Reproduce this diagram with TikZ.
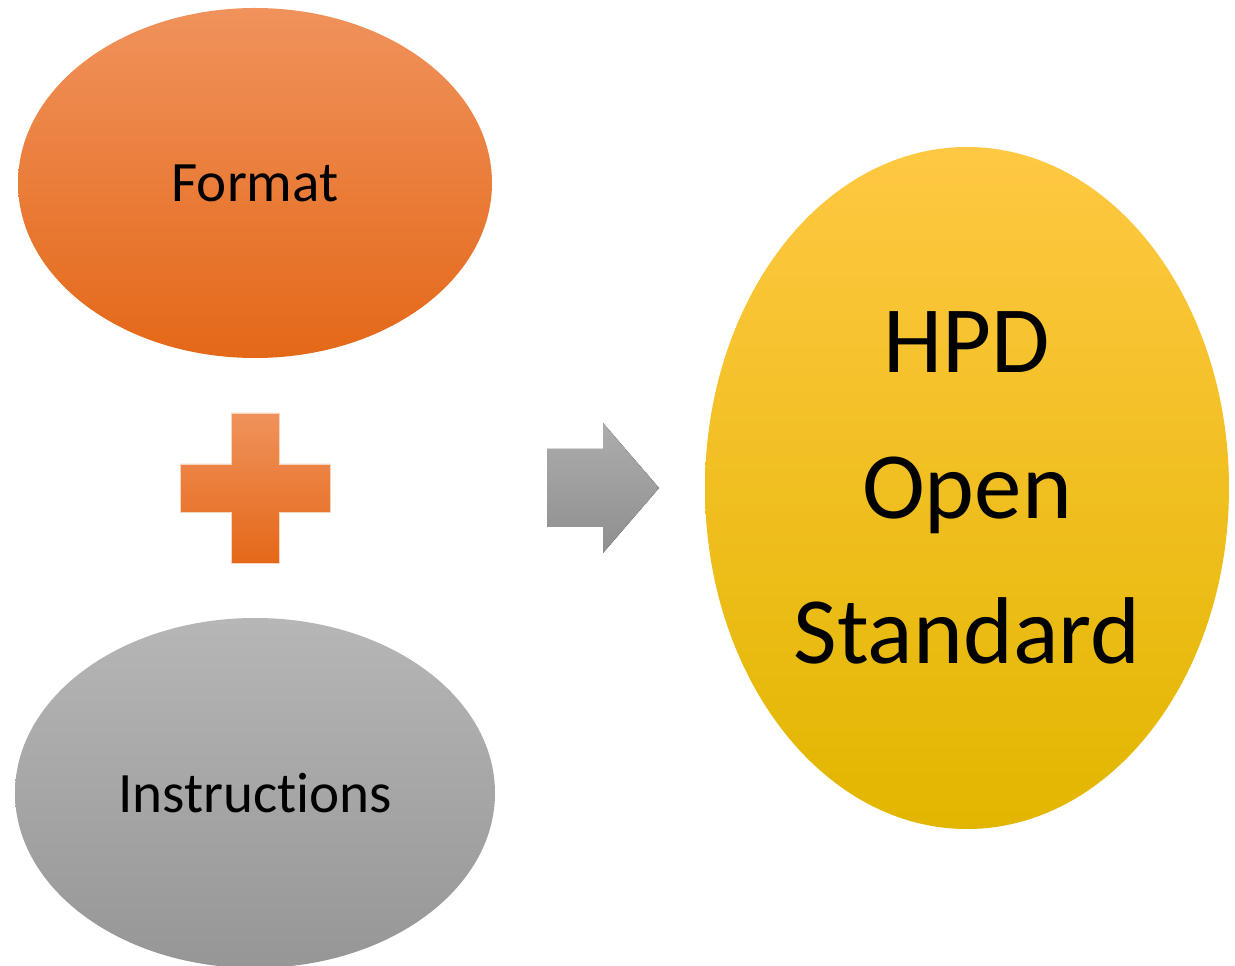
\documentclass[tikz,border=0pt]{standalone}
\usepackage{xcolor}
\usepackage{fontspec}
\setmainfont[Ligatures=NoCommon]{Carlito}
\usepackage{tikz}
\usetikzlibrary{shapes.geometric}

\definecolor{orangeTop}{RGB}{240,146,92}
\definecolor{orangeMid}{RGB}{246,128,42}
\definecolor{orangeBot}{RGB}{228,104,24}
\definecolor{greyTop}{RGB}{182,182,182}
\definecolor{greyBot}{RGB}{150,150,150}
\definecolor{yellowTop}{RGB}{255,200,66}
\definecolor{yellowMid}{RGB}{255,192,0}
\definecolor{yellowBot}{RGB}{226,182,0}

\begin{document}
\begin{tikzpicture}[
        blob/.style={ellipse, inner sep=0pt, font=\fontsize{32.5}{39}\selectfont},
        orangefill/.style={top color=orangeTop, middle color=orangeMid, bottom color=orangeBot},
        greyfill/.style={top color=greyTop, bottom color=greyBot}
    ]
    \useasboundingbox (0,0) rectangle (24.7,-19.32);

    % the two inputs
    \node[blob, orangefill, minimum width=9.48cm, minimum height=7cm] (F) at (5.1,-3.66) {Format};
    \node[blob, greyfill, minimum width=9.6cm, minimum height=7cm] (I) at (5.1,-15.86) {Instructions};

    % plus sign
    \coordinate (P) at (5.1,-9.76);
    \draw[orangefill, draw=orangeTop!40!white, line width=0.4pt]
        ([shift={(-0.48,1.5)}]P) -- ([shift={(0.48,1.5)}]P) -- ([shift={(0.48,0.48)}]P)
        -- ([shift={(1.5,0.48)}]P) -- ([shift={(1.5,-0.48)}]P) -- ([shift={(0.48,-0.48)}]P)
        -- ([shift={(0.48,-1.5)}]P) -- ([shift={(-0.48,-1.5)}]P) -- ([shift={(-0.48,-0.48)}]P)
        -- ([shift={(-1.5,-0.48)}]P) -- ([shift={(-1.5,0.48)}]P) -- ([shift={(-0.48,0.48)}]P) -- cycle;

    % arrow
    \coordinate (A) at (10.94,-9.76);
    \fill[top color=greyTop!95!black, bottom color=greyBot!95!black]
        ([shift={(0,0.78)}]A) -- ([shift={(1.12,0.78)}]A) -- ([shift={(1.12,1.3)}]A)
        -- ([shift={(2.24,0)}]A) -- ([shift={(1.12,-1.3)}]A) -- ([shift={(1.12,-0.78)}]A)
        -- ([shift={(0,-0.78)}]A) -- cycle;

    % result
    \node[ellipse, inner sep=0pt, minimum width=10.48cm, minimum height=13.64cm,
          top color=yellowTop, middle color=yellowMid, bottom color=yellowBot,
          align=center, font=\fontsize{54}{83}\selectfont] (H) at (19.34,-9.76) {HPD\\Open\\Standard};

\end{tikzpicture}
\end{document}
